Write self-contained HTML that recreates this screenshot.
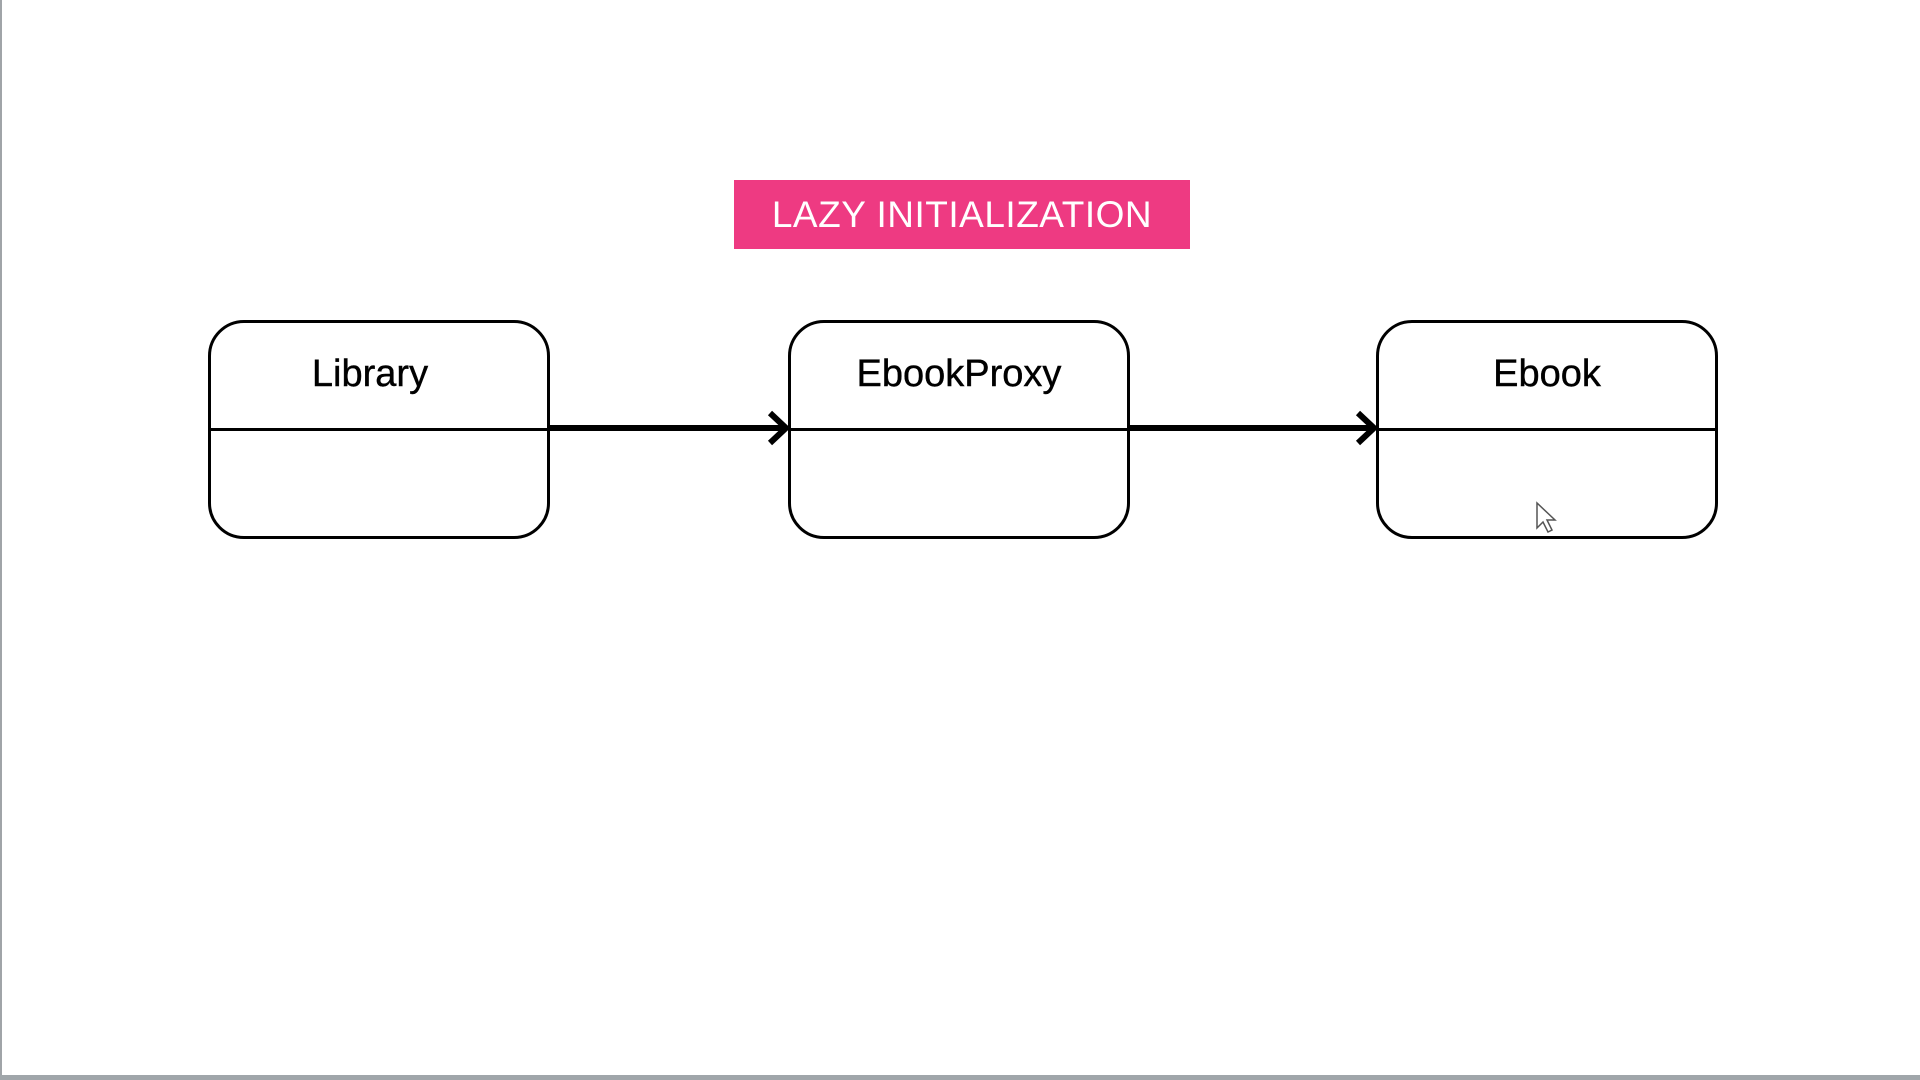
<!DOCTYPE html>
<html><head><meta charset="utf-8"><style>
html,body{margin:0;padding:0;width:1920px;height:1080px;overflow:hidden;background:#fff;font-family:"Liberation Sans",sans-serif;}
.lb{position:absolute;left:0;top:0;width:2px;height:1080px;background:#a0a4a8;}
.bb{position:absolute;left:0;top:1075px;width:1920px;height:5px;background:#a0a6aa;}
.title{position:absolute;left:734px;top:180px;width:456px;height:69px;background:#ee3a82;color:#fff;font-size:37px;line-height:69px;text-align:center;letter-spacing:0.5px;}
.box{position:absolute;top:320px;width:336px;height:213px;border:3px solid #000;border-radius:36px;box-sizing:content-box;}
.box .t{position:absolute;left:0;right:0;top:30px;text-align:center;font-size:38px;color:#000;-webkit-text-stroke:0.4px #000;}
.box .d{position:absolute;left:0;right:0;top:105px;height:3px;background:#000;}
</style></head><body>
<div class="lb"></div><div class="bb"></div>
<div class="title">LAZY INITIALIZATION</div>
<div class="box" style="left:208px;"><div class="t" style="right:18px">Library</div><div class="d"></div></div>
<div class="box" style="left:788px;"><div class="t">EbookProxy</div><div class="d"></div></div>
<div class="box" style="left:1376px;"><div class="t">Ebook</div><div class="d"></div></div>
<svg style="position:absolute;left:0;top:0" width="1920" height="1080">
<line x1="548" y1="428" x2="786" y2="428" stroke="#000" stroke-width="6"/>
<polyline points="770,413 786,428 770,443" fill="none" stroke="#000" stroke-width="6"/>
<line x1="1130" y1="428" x2="1374" y2="428" stroke="#000" stroke-width="6"/>
<polyline points="1358,413 1374,428 1358,443" fill="none" stroke="#000" stroke-width="6"/>
<path d="M1537,503 L1537,528 L1543,522 L1548,532 L1552,530 L1547,520 L1555,520 Z" fill="#fff" stroke="#555" stroke-width="1.5"/>
</svg>
</body></html>
